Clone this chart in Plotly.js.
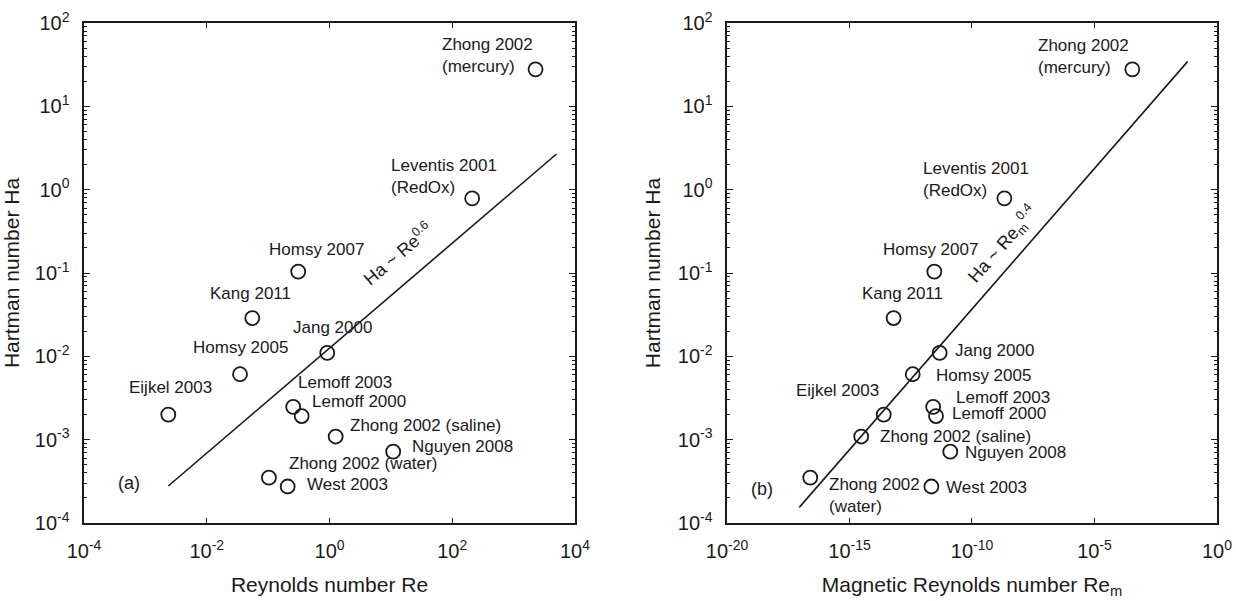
<!DOCTYPE html>
<html>
<head>
<meta charset="utf-8">
<script src="https://cdn.plot.ly/plotly-3.0.1.min.js"></script>
<style>html,body{margin:0;padding:0;background:#fff;}#chart{width:1236px;height:601px;}</style>
</head>
<body>
<div id="chart"></div>
<script>
// ---- data ----
var studies = ["Zhong 2002 (mercury)", "Leventis 2001 (RedOx)", "Homsy 2007", "Kang 2011", "Jang 2000",
  "Homsy 2005", "Eijkel 2003", "Lemoff 2003", "Lemoff 2000", "Zhong 2002 (saline)", "Nguyen 2008",
  "Zhong 2002 (water)", "West 2003"];
var reynolds = [2275, 211, 0.309, 0.0551, 0.918, 0.0348, 0.00236, 0.256, 0.352, 1.26, 10.9, 0.103, 0.208];
var magReynolds = [3.5e-4, 2.1e-9, 2.9e-12, 6.3e-14, 4.8e-12, 3.8e-13, 2.5e-14, 2.6e-12, 3.4e-12, 3.0e-15, 1.3e-11, 2.5e-17, 2.2e-12];
var hartmann = [27.8, 0.787, 0.104, 0.0288, 0.011, 0.0061, 0.0020, 0.00247, 0.00192, 0.00109, 0.000718, 0.00035, 0.000274];
var fitReX = [0.00236, 5000];
var fitReY = [2.78e-4, 2.68];
var fitRemX = [8.9e-18, 0.063];
var fitRemY = [1.54e-4, 34.4];
var labelsA = ["Zhong 2002<br>(mercury)", "Leventis 2001<br>(RedOx)", "Homsy 2007", "Kang 2011", "Jang 2000",
  "Homsy 2005", "Eijkel 2003", "Lemoff 2003", "Lemoff 2000", "Zhong 2002 (saline)", "Nguyen 2008",
  "Zhong 2002 (water)", "West 2003"];
var labelsB = ["Zhong 2002<br>(mercury)", "Leventis 2001<br>(RedOx)", "Homsy 2007", "Kang 2011", "Jang 2000",
  "Homsy 2005", "Eijkel 2003", "Lemoff 2003", "Lemoff 2000", "Zhong 2002 (saline)", "Nguyen 2008",
  "Zhong 2002<br>(water)", "West 2003"];
var yTickVals = [1e-4, 1e-3, 1e-2, 1e-1, 1, 10, 100];
var yTickText = ["10<sup>-4</sup>", "10<sup>-3</sup>", "10<sup>-2</sup>", "10<sup>-1</sup>", "10<sup>0</sup>", "10<sup>1</sup>", "10<sup>2</sup>"];
var xTickValsA = [1e-4, 1e-2, 1, 1e2, 1e4];
var xTickTextA = ["10<sup>-4</sup>", "10<sup>-2</sup>", "10<sup>0</sup>", "10<sup>2</sup>", "10<sup>4</sup>"];
var xTickValsB = [1e-20, 1e-15, 1e-10, 1e-5, 1];
var xTickTextB = ["10<sup>-20</sup>", "10<sup>-15</sup>", "10<sup>-10</sup>", "10<sup>-5</sup>", "10<sup>0</sup>"];

// ---- label placement (pixel offsets from each marker) ----
var placeA = [[-95,13.6,"left"],[-82,21.6,"left"],[18,22.4,"center"],[-2,25,"center"],[5,25,"center"],
  [0,26.7,"center"],[2.5,27,"center"],[52,24,"center"],[57,14.3,"center"],[13.5,11,"left"],[17.5,5,"left"],
  [19.5,14.4,"left"],[18,1.7,"left"]];
var placeB = [[-95,13.3,"left"],[-82.5,18.5,"left"],[-3.7,22.4,"center"],[9,25,"center"],[14,2.7,"left"],
  [22.5,-1,"left"],[-4,24.3,"right"],[21.5,9,"left"],[15,2.2,"left"],[17.5,0.5,"left"],[14,-1,"left"],
  [17.5,-17.6,"left"],[14,-0.7,"left"]];

var FONT = "Liberation Sans, Arial, Helvetica, sans-serif";
var INK = "#1a1a1a";

var markerStyle = {symbol: "circle-open", size: 14, color: INK, line: {width: 1.8, color: INK}};
var traces = [
  {x: reynolds, y: hartmann, text: studies, mode: "markers", type: "scatter", xaxis: "x", yaxis: "y", marker: markerStyle, hoverinfo: "text+x+y"},
  {x: fitReX, y: fitReY, mode: "lines", type: "scatter", xaxis: "x", yaxis: "y", line: {color: INK, width: 1.6}, hoverinfo: "skip"},
  {x: magReynolds, y: hartmann, text: studies, mode: "markers", type: "scatter", xaxis: "x2", yaxis: "y2", marker: markerStyle, hoverinfo: "text+x+y"},
  {x: fitRemX, y: fitRemY, mode: "lines", type: "scatter", xaxis: "x2", yaxis: "y2", line: {color: INK, width: 1.6}, hoverinfo: "skip"}
];

var annotations = [];
function addLabels(xs, labels, place, xr, yr) {
  for (var i = 0; i < xs.length; i++) {
    annotations.push({
      x: Math.log10(xs[i]), y: Math.log10(hartmann[i]), xref: xr, yref: yr,
      text: labels[i], showarrow: false, xanchor: place[i][2], yanchor: "middle",
      xshift: place[i][0], yshift: place[i][1], align: "left", borderpad: 0,
      font: {family: FONT, size: 17, color: INK}
    });
  }
}
addLabels(reynolds, labelsA, placeA, "x", "y");
addLabels(magReynolds, labelsB, placeB, "x2", "y2");
function paperText(x, y, text, size, angle) {
  annotations.push({xref: "paper", yref: "paper", x: x, y: y, xanchor: "center", yanchor: "middle", text: text,
    showarrow: false, textangle: angle, borderpad: 0, font: {family: FONT, size: size, color: INK}});
}
paperText(0.322, 0.5774, "Ha ~ Re<sup>0.6</sup>", 18, -40.5);
paperText(0.8107, 0.594, "Ha ~ Re<sub>m</sub><sup>0.4</sup>", 18, -49);
paperText(0.104, 0.1963, "(a)", 18, 0);
paperText(0.6165, 0.1864, "(b)", 18, 0);

function xAxis(domain, range, vals, text, title, anchor) {
  return {type: "log", domain: domain, range: range, anchor: anchor, tickmode: "array", tickvals: vals, ticktext: text,
    ticks: "inside", ticklen: 5, tickwidth: 1, tickcolor: INK, showline: true, linewidth: 2.5, linecolor: INK, mirror: "ticks",
    showgrid: false, zeroline: false, ticklabelstandoff: 9, tickfont: {family: FONT, size: 20, color: INK},
    title: {text: title, font: {family: FONT, size: 21, color: INK}, standoff: 16}};
}
function yAxis(anchor) {
  return {type: "log", domain: [0.1298, 0.9617], range: [-4, 2], anchor: anchor, tickmode: "array", tickvals: yTickVals, ticktext: yTickText,
    ticks: "inside", ticklen: 6, tickwidth: 1, tickcolor: INK, showline: true, linewidth: 2.5, linecolor: INK, mirror: "ticks",
    minor: {ticks: "inside", ticklen: 3, dtick: "D1", tickcolor: INK, tickwidth: 1, showgrid: false},
    showgrid: false, zeroline: false, ticklabelstandoff: 8, tickfont: {family: FONT, size: 20, color: INK},
    title: {text: "Hartman number Ha", font: {family: FONT, size: 21, color: INK}, standoff: 12}};
}

var layout = {
  width: 1236, height: 601, margin: {l: 0, r: 0, t: 0, b: 0}, showlegend: false,
  paper_bgcolor: "#ffffff", plot_bgcolor: "#ffffff", font: {family: FONT, color: INK},
  xaxis: xAxis([0.0680, 0.4652], [-4, 4], xTickValsA, xTickTextA, "Reynolds number Re", "y"),
  yaxis: yAxis("x"),
  xaxis2: xAxis([0.5882, 0.9846], [-20, 0], xTickValsB, xTickTextB, "Magnetic Reynolds number Re<sub>m</sub>", "y2"),
  yaxis2: yAxis("x2"),
  annotations: annotations
};

Plotly.newPlot("chart", traces, layout, {displayModeBar: false, staticPlot: true});
</script>
</body>
</html>
